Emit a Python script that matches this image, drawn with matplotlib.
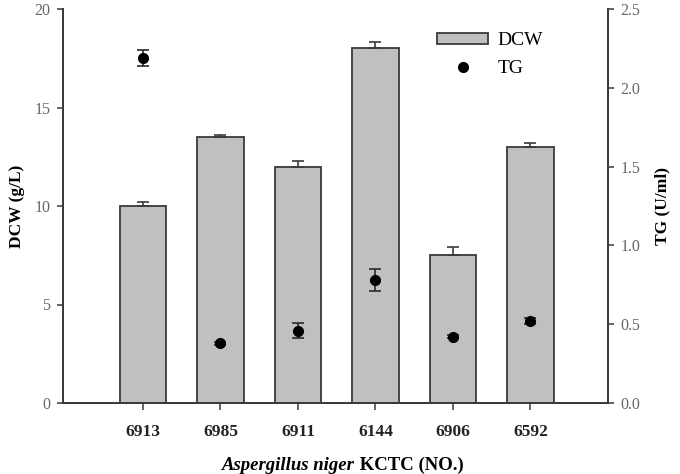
import numpy as np
import matplotlib.pyplot as plt
from matplotlib.lines import Line2D

# strains and measurements
strains = ["6913", "6985", "6911", "6144", "6906", "6592"]
dcw = [10.0, 13.5, 12.0, 18.0, 7.5, 13.0]
dcw_err = [0.2, 0.1, 0.3, 0.3, 0.4, 0.2]
tg = [2.19, 0.38, 0.46, 0.78, 0.42, 0.52]
tg_err = [0.05, 0.01, 0.05, 0.07, 0.01, 0.02]

plt.rcParams["font.family"] = ["Liberation Serif", "DejaVu Serif"]

fig = plt.figure(figsize=(6.8, 4.74), dpi=100)
ax = fig.add_axes([63 / 680, 71 / 474, 545 / 680, 394 / 474])
ax2 = ax.twinx()

x = np.arange(1, len(strains) + 1)
bars = ax.bar(x, dcw, width=0.6, color="#c0c0c0", edgecolor="#3a3a3a",
              linewidth=1.3, label="DCW", zorder=2)
ax.errorbar(x, dcw, yerr=[np.zeros(len(dcw)), dcw_err], fmt="none",
            ecolor="#3a3a3a", elinewidth=1.2, capsize=4, capthick=1.2, zorder=3)

ax2.errorbar(x, tg, yerr=tg_err, fmt="o", color="black", markersize=7,
             ecolor="#2a2a2a", elinewidth=1.2, capsize=4, capthick=1.2,
             zorder=4)

ax.set_xlim(-0.03, 7.0)
ax.set_ylim(0, 20)
ax2.set_ylim(0, 2.5)
ax.set_yticks([0, 5, 10, 15, 20])
ax2.set_yticks([0, 0.5, 1.0, 1.5, 2.0, 2.5])
ax2.set_yticklabels(["0.0", "0.5", "1.0", "1.5", "2.0", "2.5"])
ax.set_xticks(x)
ax.set_xticklabels(strains, fontweight="bold", fontsize=12.5)

for a in (ax, ax2):
    a.spines["top"].set_visible(False)
    for s in ("left", "right", "bottom"):
        a.spines[s].set_color("#3a3a3a")
        a.spines[s].set_linewidth(1.3)
    a.tick_params(axis="y", direction="out", length=4, width=1.1,
                  colors="#3a3a3a", labelcolor="#666666", labelsize=11.5, pad=5)
ax.tick_params(axis="x", direction="out", length=5, width=1.1,
               colors="#3a3a3a", labelcolor="#222222", pad=10)

ax.set_ylabel("DCW (g/L)", fontweight="bold", fontsize=12.5, labelpad=7)
ax2.set_ylabel("TG (U/ml)", fontweight="bold", fontsize=12.5, labelpad=10)

fig.text(0.522, 0.008, "Aspergillus niger", fontstyle="italic",
         fontweight="bold", fontsize=13.5, ha="right", va="baseline")
fig.text(0.522, 0.008, " KCTC (NO.)", fontweight="bold", fontsize=13.5,
         ha="left", va="baseline")

tg_handle = Line2D([], [], linestyle="none", marker="o", color="black",
                   markersize=7)
ax2.legend([bars, tg_handle], ["DCW", "TG"], loc="upper left",
           bbox_to_anchor=(0.655, 0.985), frameon=False, fontsize=14,
           handlelength=2.6, handleheight=0.55, handletextpad=0.5,
           labelspacing=0.55)

fig.savefig("out.png", dpi=100)
